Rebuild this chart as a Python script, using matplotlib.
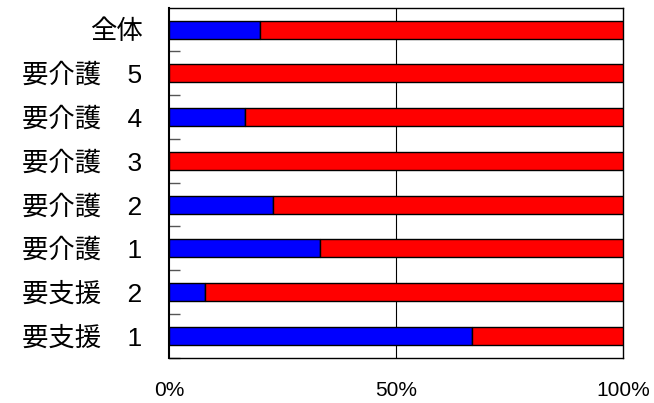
import numpy as np
import matplotlib.pyplot as plt

# 区分（上から順）
categories = ['全体', '要介護　5', '要介護　4', '要介護　3', '要介護　2', '要介護　1', '要支援　2', '要支援　1']
blue_pct = [20.0, 0.0, 16.7, 0.0, 22.9, 33.3, 8.0, 66.7]
red_pct = [100 - v for v in blue_pct]
xtick_labels = ['0%', '50%', '100%']

plt.rcParams['font.family'] = ['Liberation Sans', 'Noto Sans CJK JP', 'DejaVu Sans']

fig = plt.figure(figsize=(6.54, 4.03), dpi=100)
ax = fig.add_axes([169 / 654, 1 - 357.7 / 403, 454 / 654, 350 / 403])

n = len(categories)
y = np.arange(n)[::-1]  # 上から全体
ax.barh(y, blue_pct, height=0.41, color='#0000ff', edgecolor='black', linewidth=1, zorder=3)
ax.barh(y, red_pct, left=blue_pct, height=0.41, color='#ff0000', edgecolor='black', linewidth=1, zorder=3)

ax.set_xlim(0, 100)
ax.set_ylim(-0.5, n - 0.5)

# 50% の縦線
ax.axvline(50, color='black', linewidth=0.8, zorder=2)

ax.set_xticks([0, 50, 100])
ax.set_xticklabels(xtick_labels, fontsize=15)
ax.tick_params(axis='x', length=0, pad=17)

# カテゴリ名（目盛りは区切り位置に）
ax.set_yticks(np.arange(n) - 0.5, minor=False)
ax.set_yticklabels([])
ax.tick_params(axis='y', which='major', direction='in', length=8, width=1, color='#555555')
ax.set_yticks(y, minor=True)
ax.set_yticklabels(categories, minor=True, fontsize=19)
ax.tick_params(axis='y', which='minor', length=0, pad=19)

for s in ax.spines.values():
    s.set_color('black')
    s.set_linewidth(1)
ax.spines['left'].set_linewidth(1.5)

fig.savefig('out.png', dpi=100)
